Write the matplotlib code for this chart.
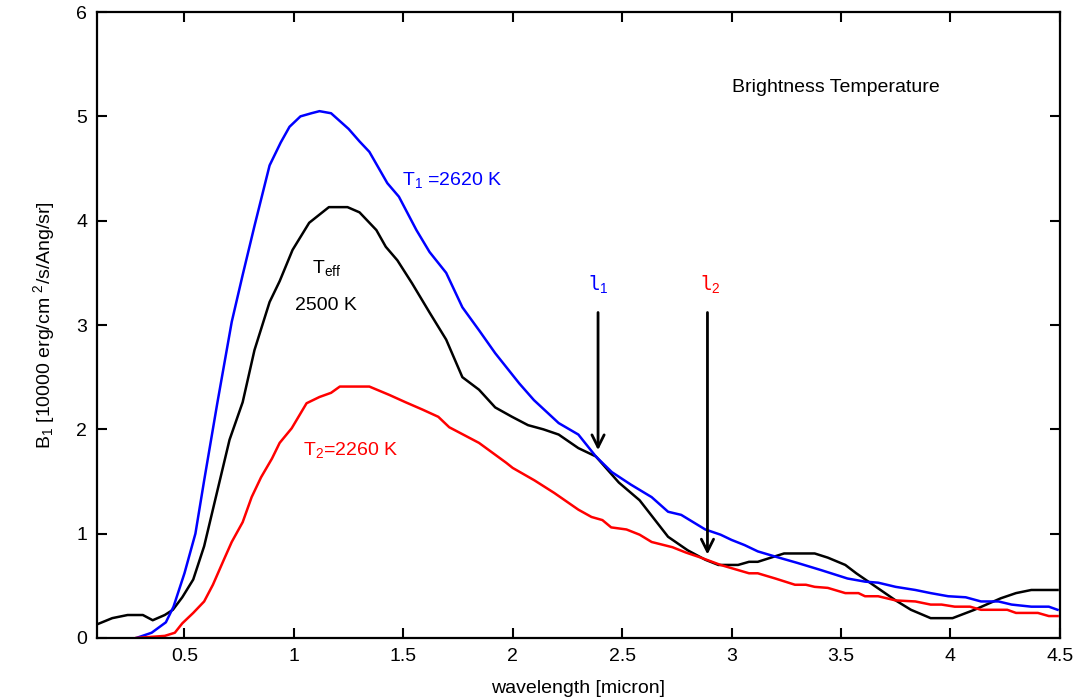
import matplotlib
matplotlib.use("Agg")
import matplotlib.pyplot as plt

plt.rcParams['font.family'] = ['Liberation Sans', 'DejaVu Sans']
plt.rcParams['mathtext.fontset'] = 'custom'
plt.rcParams['mathtext.rm'] = 'Liberation Sans'
plt.rcParams['mathtext.it'] = 'Liberation Sans'
plt.rcParams['mathtext.tt'] = 'DejaVu Sans Mono'

# ---- data ----
blue_x = [0.28, 0.35, 0.415, 0.45, 0.5, 0.55, 0.59, 0.65, 0.716, 0.766, 0.82, 0.889, 0.94, 0.98,
          1.03, 1.08, 1.117, 1.17, 1.25, 1.30, 1.345, 1.427, 1.48, 1.56, 1.62, 1.696, 1.77, 1.846,
          1.92, 2.03, 2.097, 2.21, 2.30, 2.38, 2.453, 2.54, 2.635, 2.71, 2.77, 2.88, 2.95, 3.0,
          3.06, 3.12, 3.2, 3.3, 3.41, 3.53, 3.61, 3.67, 3.75, 3.84, 3.91, 3.99, 4.07, 4.14, 4.22,
          4.28, 4.37, 4.45, 4.49]
blue_y = [0.0, 0.05, 0.15, 0.3, 0.62, 1.0, 1.51, 2.25, 3.03, 3.48, 3.95, 4.53, 4.75, 4.90,
          5.0, 5.03, 5.05, 5.03, 4.88, 4.76, 4.66, 4.36, 4.23, 3.91, 3.70, 3.50, 3.17, 2.95,
          2.73, 2.44, 2.28, 2.06, 1.95, 1.74, 1.59, 1.47, 1.35, 1.21, 1.18, 1.04, 0.99, 0.94,
          0.89, 0.83, 0.78, 0.72, 0.65, 0.57, 0.54, 0.53, 0.49, 0.46, 0.43, 0.40, 0.39, 0.35, 0.35,
          0.32, 0.30, 0.30, 0.27]

black_x = [0.1, 0.17, 0.24, 0.31, 0.355, 0.41, 0.447, 0.49, 0.54, 0.59, 0.64, 0.706, 0.766, 0.82,
           0.889, 0.935, 0.994, 1.07, 1.16, 1.245, 1.30, 1.377, 1.42, 1.473, 1.54, 1.62, 1.696,
           1.77, 1.846, 1.92, 1.997, 2.07, 2.14, 2.21, 2.30, 2.38, 2.485, 2.58, 2.71, 2.80, 2.88,
           2.94, 3.03, 3.08, 3.12, 3.24, 3.38, 3.44, 3.52, 3.57, 3.66, 3.75, 3.82, 3.91, 4.01,
           4.11, 4.23, 4.30, 4.37, 4.49]
black_y = [0.13, 0.19, 0.22, 0.22, 0.17, 0.22, 0.27, 0.39, 0.56, 0.88, 1.32, 1.9, 2.26, 2.76,
           3.22, 3.42, 3.72, 3.98, 4.13, 4.13, 4.08, 3.91, 3.75, 3.62, 3.40, 3.12, 2.86,
           2.50, 2.38, 2.21, 2.12, 2.04, 2.0, 1.95, 1.82, 1.74, 1.49, 1.32, 0.97, 0.84, 0.75,
           0.70, 0.70, 0.73, 0.73, 0.81, 0.81, 0.77, 0.70, 0.62, 0.49, 0.36, 0.27, 0.19, 0.19,
           0.27, 0.38, 0.43, 0.46, 0.46]

red_x = [0.28, 0.41, 0.456, 0.49, 0.54, 0.59, 0.63, 0.68, 0.716, 0.766, 0.807, 0.85, 0.9, 0.935,
         0.99, 1.058, 1.117, 1.17, 1.21, 1.345, 1.436, 1.51, 1.587, 1.66, 1.71, 1.846, 1.97,
         2.0, 2.1, 2.19, 2.30, 2.36, 2.41, 2.45, 2.52, 2.58, 2.635, 2.73, 2.79, 2.86, 2.95,
         3.08, 3.12, 3.20, 3.29, 3.34, 3.38, 3.44, 3.52, 3.58, 3.61, 3.67, 3.75, 3.84, 3.91,
         3.96, 4.02, 4.09, 4.14, 4.26, 4.30, 4.40, 4.45, 4.49]
red_y = [0.0, 0.02, 0.05, 0.14, 0.24, 0.35, 0.51, 0.75, 0.92, 1.11, 1.35, 1.54, 1.72, 1.87,
         2.01, 2.25, 2.31, 2.35, 2.41, 2.41, 2.33, 2.26, 2.19, 2.12, 2.02, 1.87, 1.68,
         1.63, 1.51, 1.39, 1.23, 1.16, 1.13, 1.06, 1.04, 0.99, 0.92, 0.87, 0.82, 0.77, 0.70,
         0.62, 0.62, 0.57, 0.51, 0.51, 0.49, 0.48, 0.43, 0.43, 0.40, 0.40, 0.36, 0.35, 0.32,
         0.32, 0.30, 0.30, 0.27, 0.27, 0.24, 0.24, 0.21, 0.21]

lambda1 = 2.39
lambda2 = 2.89
arrow_top = 3.12
arrow1_tip = 1.80
arrow2_tip = 0.80

x_ticks = [0.5, 1, 1.5, 2, 2.5, 3, 3.5, 4, 4.5]
y_ticks = [0, 1, 2, 3, 4, 5, 6]

FS = 14

fig = plt.figure(figsize=(10.77, 6.97), dpi=100)
ax = fig.add_axes([0.090, 0.0847, 0.894, 0.898])

ax.plot(black_x, black_y, color='black', lw=1.8)
ax.plot(blue_x, blue_y, color='#0000ff', lw=1.8)
ax.plot(red_x, red_y, color='#ff0000', lw=1.8)

for lam, tip in [(lambda1, arrow1_tip), (lambda2, arrow2_tip)]:
    ax.annotate('', xy=(lam, tip), xytext=(lam, arrow_top),
                arrowprops=dict(arrowstyle='->', lw=2.0, color='black',
                                mutation_scale=22, shrinkA=0, shrinkB=0))

ax.text(lambda1 - 0.045, 3.34, r'$\mathtt{l}_1$', color='#0000ff', fontsize=FS)
ax.text(lambda2 - 0.035, 3.34, r'$\mathtt{l}_2$', color='#ff0000', fontsize=FS)

ax.text(1.496, 4.34, r'T$_1$ =2620 K', color='#0000ff', fontsize=FS)
ax.text(1.085, 3.50, r'T$_{\rm eff}$', color='black', fontsize=FS)
ax.text(1.003, 3.14, '2500 K', color='black', fontsize=FS)
ax.text(1.04, 1.75, r'T$_2$=2260 K', color='#ff0000', fontsize=FS)
ax.text(3.0, 5.23, 'Brightness Temperature', color='black', fontsize=FS)

ax.set_xlim(0.1, 4.5)
ax.set_ylim(0, 6)
ax.set_xticks(x_ticks)
ax.set_xticklabels(['0.5', '1', '1.5', '2', '2.5', '3', '3.5', '4', '4.5'])
ax.set_yticks(y_ticks)
ax.tick_params(direction='in', length=7, width=1.5, top=True, right=True,
               labelsize=FS, pad=7)
for s in ax.spines.values():
    s.set_linewidth(1.6)

ax.set_xlabel('wavelength [micron]', fontsize=FS, labelpad=11)
ax.set_ylabel(r'B$_1$ [10000 erg/cm $^2$/s/Ang/sr]', fontsize=FS, labelpad=14)

fig.savefig('out.png', dpi=100)
